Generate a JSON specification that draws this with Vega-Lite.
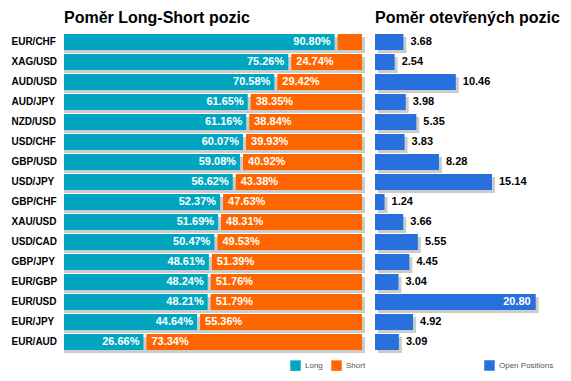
{
  "$schema": "https://vega.github.io/schema/vega-lite/v6.json",
  "padding": {"left": 11, "top": 10, "right": 5, "bottom": 5},
  "config": {
    "view": {"stroke": null},
    "font": "Liberation Sans",
    "title": {"font": "Liberation Sans", "fontSize": 16, "fontWeight": "bold", "anchor": "start", "frame": "group", "color": "#000000", "offset": 6}
  },
  "datasets": {
    "fx": [
      {"pair": "EUR/CHF", "long": 90.80, "short": 9.20, "open": 3.68},
      {"pair": "XAG/USD", "long": 75.26, "short": 24.74, "open": 2.54},
      {"pair": "AUD/USD", "long": 70.58, "short": 29.42, "open": 10.46},
      {"pair": "AUD/JPY", "long": 61.65, "short": 38.35, "open": 3.98},
      {"pair": "NZD/USD", "long": 61.16, "short": 38.84, "open": 5.35},
      {"pair": "USD/CHF", "long": 60.07, "short": 39.93, "open": 3.83},
      {"pair": "GBP/USD", "long": 59.08, "short": 40.92, "open": 8.28},
      {"pair": "USD/JPY", "long": 56.62, "short": 43.38, "open": 15.14},
      {"pair": "GBP/CHF", "long": 52.37, "short": 47.63, "open": 1.24},
      {"pair": "XAU/USD", "long": 51.69, "short": 48.31, "open": 3.66},
      {"pair": "USD/CAD", "long": 50.47, "short": 49.53, "open": 5.55},
      {"pair": "GBP/JPY", "long": 48.61, "short": 51.39, "open": 4.45},
      {"pair": "EUR/GBP", "long": 48.24, "short": 51.76, "open": 3.04},
      {"pair": "EUR/USD", "long": 48.21, "short": 51.79, "open": 20.80},
      {"pair": "EUR/JPY", "long": 44.64, "short": 55.36, "open": 4.92},
      {"pair": "EUR/AUD", "long": 26.66, "short": 73.34, "open": 3.09}
    ]
  },
  "spacing": 9,
  "resolve": {"scale": {"color": "independent"}, "legend": {"color": "independent"}},
  "hconcat": [
    {
      "width": 298,
      "height": 320,
      "title": {"text": "Poměr Long-Short pozic"},
      "data": {"name": "fx"},
      "transform": [
        {"calculate": "format(datum.long, '.2f') + '%'", "as": "longLabel"},
        {"calculate": "format(datum.short, '.2f') + '%'", "as": "shortLabel"}
      ],
      "encoding": {
        "y": {
          "field": "pair", "type": "nominal", "sort": null,
          "scale": {"paddingInner": 0.2, "paddingOuter": 0.1},
          "axis": {"title": null, "domain": false, "ticks": false, "tickSize": 0, "labelAlign": "left", "labelPadding": 53, "labelFontSize": 10, "labelFontWeight": "bold", "labelColor": "#000000", "labelFont": "Liberation Sans"}
        }
      },
      "layer": [
        {
          "mark": {"type": "bar", "color": "#cccccc", "xOffset": 3, "yOffset": 3, "x2Offset": 3},
          "encoding": {
            "x": {"datum": 100, "type": "quantitative", "scale": {"domain": [0, 100]}, "axis": null}
          }
        },
        {
          "mark": {"type": "bar"},
          "encoding": {
            "x": {"field": "long", "type": "quantitative", "scale": {"domain": [0, 100]}, "axis": null},
            "color": {
              "datum": "Long",
              "scale": {"domain": ["Long", "Short"], "range": ["#00a6c0", "#ff6600"]},
              "legend": {"title": null, "orient": "none", "direction": "horizontal", "legendX": 226, "legendY": 328, "symbolType": "square", "symbolSize": 110, "symbolStrokeWidth": 0, "labelFontSize": 8, "labelColor": "#555555", "columnPadding": 8, "labelOffset": 4}
            }
          }
        },
        {
          "mark": {"type": "bar", "xOffset": 3},
          "encoding": {
            "x": {"field": "long", "type": "quantitative"},
            "x2": {"datum": 100},
            "color": {"datum": "Short"}
          }
        },
        {
          "mark": {"type": "text", "align": "right", "dx": -4, "color": "#ffffff", "fontWeight": "bold", "fontSize": 11, "baseline": "middle"},
          "encoding": {
            "x": {"field": "long", "type": "quantitative"},
            "text": {"field": "longLabel"}
          }
        },
        {
          "transform": [{"filter": "datum.short >= 10"}],
          "mark": {"type": "text", "align": "left", "dx": 8, "color": "#ffffff", "fontWeight": "bold", "fontSize": 11, "baseline": "middle"},
          "encoding": {
            "x": {"field": "long", "type": "quantitative"},
            "text": {"field": "shortLabel"}
          }
        }
      ]
    },
    {
      "width": 170,
      "height": 320,
      "title": {"text": "Poměr otevřených pozic"},
      "data": {"name": "fx"},
      "encoding": {
        "y": {
          "field": "pair", "type": "nominal", "sort": null,
          "scale": {"paddingInner": 0.2, "paddingOuter": 0.1},
          "axis": null
        }
      },
      "layer": [
        {
          "mark": {"type": "bar", "color": "#cccccc", "xOffset": 3, "yOffset": 3, "x2Offset": 3},
          "encoding": {
            "x": {"field": "open", "type": "quantitative", "scale": {"domain": [0, 21]}, "axis": null}
          }
        },
        {
          "mark": {"type": "bar"},
          "encoding": {
            "x": {"field": "open", "type": "quantitative", "scale": {"domain": [0, 21]}, "axis": null},
            "color": {
              "datum": "Open Positions",
              "scale": {"domain": ["Open Positions"], "range": ["#2870dc"]},
              "legend": {"title": null, "orient": "none", "direction": "horizontal", "legendX": 109, "legendY": 328, "symbolType": "square", "symbolSize": 110, "symbolStrokeWidth": 0, "labelFontSize": 8, "labelColor": "#555555", "labelOffset": 4}
            }
          }
        },
        {
          "transform": [{"filter": "datum.open < 20"}],
          "mark": {"type": "text", "align": "left", "dx": 7, "color": "#000000", "fontWeight": "bold", "fontSize": 11, "baseline": "middle"},
          "encoding": {
            "x": {"field": "open", "type": "quantitative"},
            "text": {"field": "open", "format": ".2f"}
          }
        },
        {
          "transform": [{"filter": "datum.open >= 20"}],
          "mark": {"type": "text", "align": "right", "dx": -5, "color": "#ffffff", "fontWeight": "bold", "fontSize": 11, "baseline": "middle"},
          "encoding": {
            "x": {"field": "open", "type": "quantitative"},
            "text": {"field": "open", "format": ".2f"}
          }
        }
      ]
    }
  ]
}
